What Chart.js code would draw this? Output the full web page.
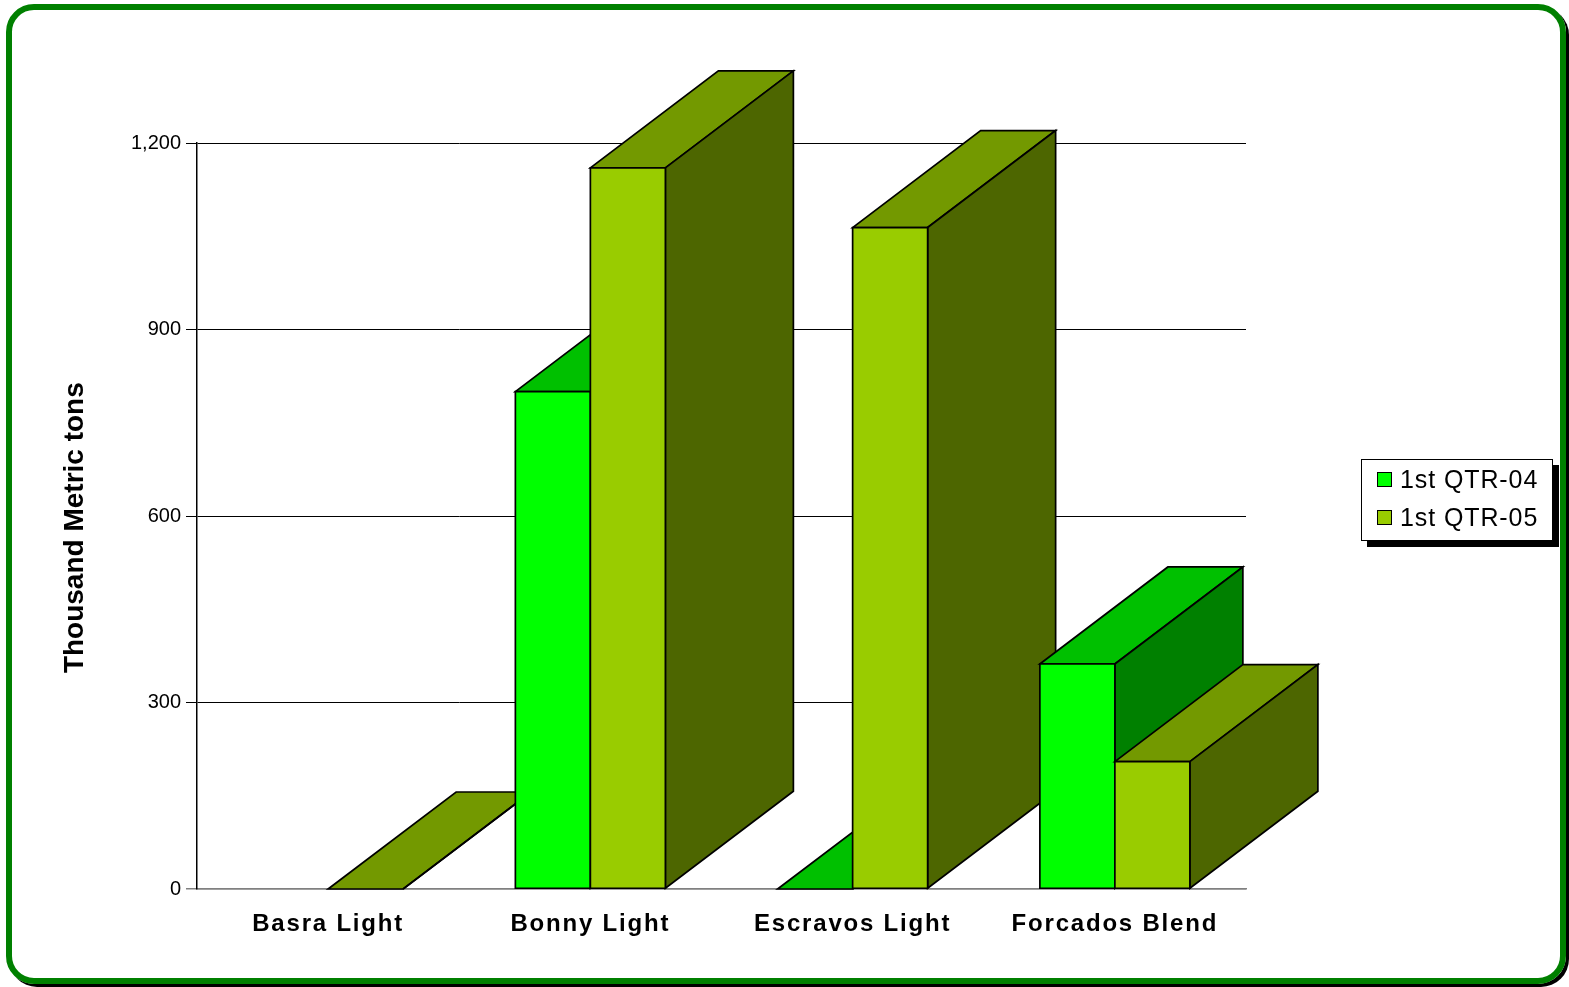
<!DOCTYPE html>
<html>
<head>
<meta charset="utf-8">
<title>Crude oil by grade</title>
<script src="https://cdn.jsdelivr.net/npm/chart.js@4.4.1/dist/chart.umd.min.js"></script>
<style>
    html, body { margin: 0; padding: 0; background: #fff; }
    #wrap { position: relative; width: 1569px; height: 987px; overflow: hidden; background: #fff; }
    #frame {
        position: absolute; left: 6px; top: 4px; width: 1560px; height: 980px;
        box-sizing: border-box; border: 6px solid #008000; border-radius: 28px;
        box-shadow: 3px 3px 0 #000; pointer-events: none; z-index: 2;
    }
    #legend {
        position: absolute; left: 1361px; top: 459px; width: 192px; height: 82px;
        box-sizing: border-box; border: 1.5px solid #000; background: #fff;
        box-shadow: 6px 6px 0 #000; padding: 0 0 0 15px;
        font-family: 'Liberation Sans', Arial, sans-serif; font-size: 25px; letter-spacing: 0.9px; color: #000;
    }
    .item { display: flex; align-items: center; height: 38px; }
    .swatch { width: 15px; height: 15px; box-sizing: border-box; border: 1.5px solid #000; margin-right: 8px; }
</style>
</head>
<body>
<div id="wrap">
    <canvas id="chart" width="1569" height="987"></canvas>
    <div id="legend"></div>
    <div id="frame"></div>
</div>
<script>
const categories = ['Basra Light', 'Bonny Light', 'Escravos Light', 'Forcados Blend'];
const seriesNames = ['1st QTR-04', '1st QTR-05'];
const qtr04 = [null, 800, 0, 362];
const qtr05 = [0, 1160, 1064, 205];
const yTicks = [0, 300, 600, 900, 1200];

const FONT = "'Liberation Sans', Arial, sans-serif";
const DEPTH_X = 128;
const DEPTH_Y = 97;

// front / top / side shades for each series
const faces = [
    { front: '#00ff00', top: '#00c000', side: '#008000' },
    { front: '#99cc00', top: '#739900', side: '#4d6600' }
];

function poly(ctx, pts, fill) {
    ctx.beginPath();
    ctx.moveTo(pts[0][0], pts[0][1]);
    for (let k = 1; k < pts.length; k++) ctx.lineTo(pts[k][0], pts[k][1]);
    ctx.closePath();
    ctx.fillStyle = fill;
    ctx.fill();
    ctx.stroke();
}

// draws the bars as boxes, category by category so nearer boxes cover the ones behind
const bars3d = {
    id: 'bars3d',
    beforeDatasetsDraw(chart) {
        const ctx = chart.ctx;
        ctx.save();
        ctx.lineWidth = 1.7;
        ctx.strokeStyle = '#000';
        categories.forEach((cat, i) => {
            chart.data.datasets.forEach((ds, d) => {
                if (ds.data[i] == null) return;
                const bar = chart.getDatasetMeta(d).data[i];
                const l = bar.x - bar.width / 2, r = bar.x + bar.width / 2;
                const t = bar.y, b = bar.base;
                const c = faces[d];
                poly(ctx, [[l, t], [r, t], [r + DEPTH_X, t - DEPTH_Y], [l + DEPTH_X, t - DEPTH_Y]], c.top);
                poly(ctx, [[r, t], [r + DEPTH_X, t - DEPTH_Y], [r + DEPTH_X, b - DEPTH_Y], [r, b]], c.side);
                if (b - t > 0.5) poly(ctx, [[l, t], [r, t], [r, b], [l, b]], c.front);
            });
        });
        ctx.restore();
        // category labels are drawn after this hook (ticks z: 1), a bit spaced out
        ctx.letterSpacing = '1.8px';
        return false;
    },
    afterDraw(chart) {
        chart.ctx.letterSpacing = '0px';
    }
};

new Chart(document.getElementById('chart'), {
    type: 'bar',
    data: {
        labels: categories,
        datasets: [
            { label: seriesNames[0], data: qtr04, backgroundColor: faces[0].front },
            { label: seriesNames[1], data: qtr05, backgroundColor: faces[1].front }
        ]
    },
    options: {
        responsive: false,
        animation: false,
        devicePixelRatio: 1,
        categoryPercentage: 0.572,
        barPercentage: 1,
        layout: { padding: { left: 0, top: 143, right: 323, bottom: 0 } },
        plugins: {
            legend: { display: false },
            tooltip: { enabled: false }
        },
        scales: {
            x: {
                afterFit: s => { s.height = 98; },
                grid: { display: false, drawTicks: false },
                border: { color: '#808080', width: 1.5 },
                ticks: {
                    z: 1,
                    padding: 21,
                    color: '#000',
                    font: { family: FONT, size: 24, weight: 'bold' }
                }
            },
            y: {
                min: 0,
                max: 1200,
                afterBuildTicks: s => { s.ticks = yTicks.map(v => ({ value: v })); },
                afterFit: s => { s.width = 197; },
                grid: {
                    color: c => (c.tick && c.tick.value === 0 ? '#808080' : '#000'),
                    lineWidth: c => (c.tick && c.tick.value === 0 ? 1.5 : 1),
                    tickLength: 11
                },
                border: { color: '#000', width: 1.5 },
                ticks: {
                    padding: 5,
                    color: '#000',
                    font: { family: FONT, size: 20 },
                    callback: v => v.toLocaleString('en-US')
                },
                title: {
                    display: true,
                    text: 'Thousand Metric tons   ',
                    color: '#000',
                    font: { family: FONT, size: 28, weight: 'bold' },
                    padding: { top: 58 }
                }
            }
        }
    },
    plugins: [bars3d]
});

document.getElementById('legend').innerHTML = seriesNames.map((name, d) => `
    <div class="item">
        <div class="swatch" style="background:${faces[d].front}"></div>
        <span>${name}</span>
    </div>
`).join('');
</script>
</body>
</html>
